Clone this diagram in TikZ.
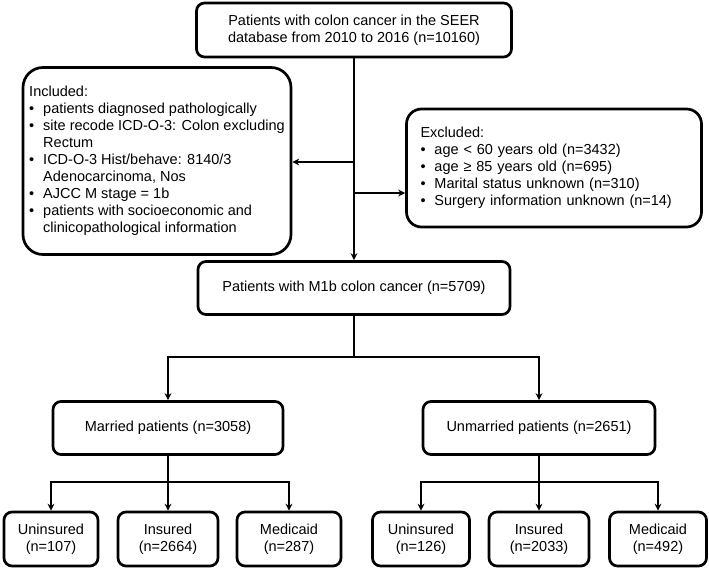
\documentclass[tikz,border=0pt]{standalone}
\usepackage{fontspec}
\setmainfont{Liberation Sans}
\usetikzlibrary{positioning, arrows.meta}
\tikzset{
    >={Stealth[length=7pt,width=7pt]}, % arrow heads
    box/.style={draw, rounded corners=8pt, align=center, inner sep=4pt,
        font=\fontsize{14.5}{17}\selectfont}, % every plain box
    listbox/.style={box, align=left}, % boxes with bullet lists
    leaf/.style={box, minimum height=54pt}, % bottom row
}
\newcommand{\lbul}{\makebox[14pt][l]{\textbullet}}
\newcommand{\lind}{\hspace*{14pt}}

\begin{document}
\begin{tikzpicture}[x=1pt, y=-1pt, line width=2.7pt]
    \useasboundingbox (0,0) rectangle (709,569);

    \node[box, minimum width=315pt, minimum height=54pt] (seer) at (354,30)
        {Patients with colon cancer in the SEER\\database from 2010 to 2016 (n=10160)};
    \node[listbox, rounded corners=20pt, minimum width=268pt, minimum height=187pt] (incl) at (157,161)
        {Included:\\
         \lbul patients diagnosed pathologically\\
         \lbul site recode ICD-O-3: Colon excluding\\
         \lind Rectum\\
         \lbul ICD-O-3 Hist/behave: 8140/3\\
         \lind Adenocarcinoma, Nos\\
         \lbul AJCC M stage = 1b\\
         \lbul patients with socioeconomic and\\
         \lind clinicopathological information};
    \node[listbox, rounded corners=15pt, text width=267pt, minimum height=118pt, inner xsep=14pt] (excl) at (554,168)
        {Excluded:\\
         \lbul age < 60 years old (n=3432)\\
         \lbul age ≥ 85 years old (n=695)\\
         \lbul Marital status unknown (n=310)\\
         \lbul Surgery information unknown (n=14)};
    \node[box, minimum width=312pt, minimum height=53pt] (m1b) at (354,288)
        {Patients with M1b colon cancer (n=5709)};

    \node[box, minimum width=230pt, minimum height=53pt] (married) at (168,428)
        {Married patients (n=3058)};
    \node[box, minimum width=232pt, minimum height=53pt] (unmarried) at (539,428)
        {Unmarried patients (n=2651)};

    \node[leaf, minimum width=94pt] (munins) at (51,539) {Uninsured\\(n=107)};
    \node[leaf, minimum width=100pt] (mins) at (168,539) {Insured\\(n=2664)};
    \node[leaf, minimum width=104pt] (mmedic) at (289,539) {Medicaid\\(n=287)};
    \node[leaf, minimum width=97pt] (uunins) at (421,539) {Uninsured\\(n=126)};
    \node[leaf, minimum width=100pt] (uins) at (539,539) {Insured\\(n=2033)};
    \node[leaf, minimum width=97pt] (umedic) at (658,539) {Medicaid\\(n=492)};

    % main line and side boxes
    \coordinate (incpt) at (354,162);
    \coordinate (excpt) at (354,193);
    \draw[->] (seer) -- (m1b);
    \draw[->] (incpt) -- (incpt -| incl.east);
    \draw[->] (excpt) -- (excpt -| excl.west);

    % marital status
    \coordinate (msplit) at (354,357);
    \draw (m1b) -- (msplit);
    \draw[->] (msplit) -| (married);
    \draw[->] (msplit) -| (unmarried);

    % insurance
    \coordinate (lsplit) at (168,482);
    \coordinate (rsplit) at (539,482);
    \draw[->] (married) -- (mins);
    \draw[->] (lsplit) -| (munins);
    \draw[->] (lsplit) -| (mmedic);
    \draw[->] (unmarried) -- (uins);
    \draw[->] (rsplit) -| (uunins);
    \draw[->] (rsplit) -| (umedic);
\end{tikzpicture}
\end{document}
